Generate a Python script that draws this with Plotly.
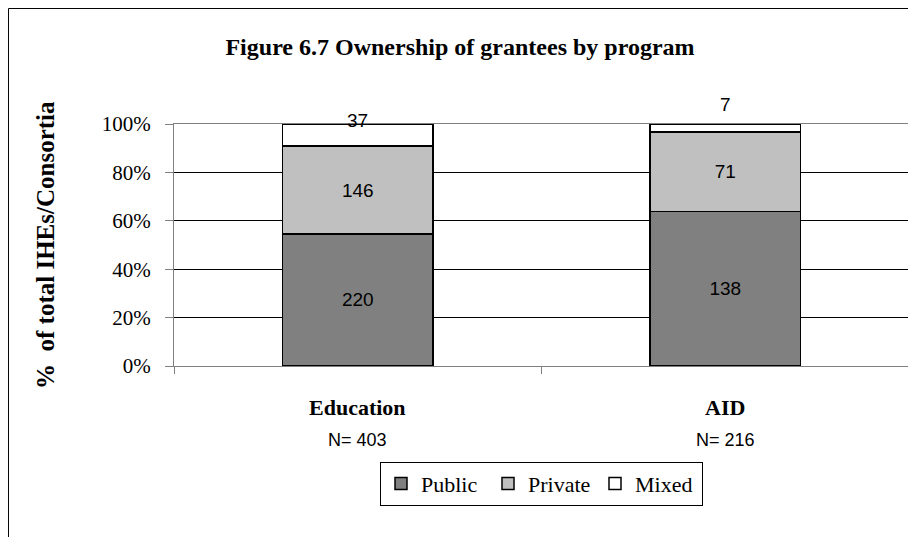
import plotly.graph_objects as go

categories = ["Education", "AID"]
n_labels = ["N= 403", "N= 216"]
series_names = ["Public", "Private", "Mixed"]
public = [220, 138]
private = [146, 71]
mixed = [37, 7]
colors = ["#808080", "#C0C0C0", "#FFFFFF"]
tick_vals = [0, 20, 40, 60, 80, 100]
tick_text = ["0%", "20%", "40%", "60%", "80%", "100%"]

totals = [a + b + c for a, b, c in zip(public, private, mixed)]
series = [public, private, mixed]

SERIF = "Liberation Serif, Times New Roman, serif"
SANS = "Liberation Sans, Arial, sans-serif"

fig = go.Figure()
for name, vals, col in zip(series_names, series, colors):
    pct = [v / t * 100 for v, t in zip(vals, totals)]
    show_text = name != "Mixed"
    fig.add_trace(go.Bar(
        x=categories, y=pct, name=name,
        marker=dict(color=col, line=dict(color="black", width=1.5)),
        text=[str(v) for v in vals] if show_text else None,
        textposition="inside" if show_text else "none",
        insidetextanchor="middle",
        textangle=0,
        textfont=dict(family=SANS, size=19, color="black"),
        hoverinfo="skip",
    ))

annotations = []
mixed_shifts = [4, 20]
for cat, v, s in zip(categories, mixed, mixed_shifts):
    annotations.append(dict(x=cat, y=100, xref="x", yref="y", text=str(v),
                            showarrow=False, yanchor="middle", yshift=s,
                            font=dict(family=SANS, size=19, color="black")))
for cat, nl in zip(categories, n_labels):
    annotations.append(dict(x=cat, y=-0.17, xref="x", yref="paper", text="<b>" + cat + "</b>",
                            showarrow=False, yanchor="middle",
                            font=dict(family=SERIF, size=22, color="black")))
    annotations.append(dict(x=cat, y=-0.306, xref="x", yref="paper", text=nl,
                            showarrow=False, yanchor="middle",
                            font=dict(family=SANS, size=18, color="black")))
annotations.append(dict(x=-0.1755, y=0.5, xref="paper", yref="paper",
                        text="<b>%  of total IHEs/Consortia</b>", textangle=-90,
                        showarrow=False, xanchor="center", yanchor="middle",
                        font=dict(family=SERIF, size=25, color="black")))

fig.update_layout(
    width=916, height=537,
    margin=dict(l=166, r=15, t=116, b=179),
    paper_bgcolor="white", plot_bgcolor="white",
    barmode="stack", bargap=0.59,
    title=dict(text="<b>Figure 6.7 Ownership of grantees by program</b>",
               x=452 / 916, xanchor="center", y=1 - 39 / 537, yanchor="middle",
               font=dict(family=SERIF, size=24, color="black")),
    showlegend=True,
    legend=dict(orientation="h", x=0.5, xanchor="center", y=-0.395, yanchor="top",
                bordercolor="black", borderwidth=1, bgcolor="white",
                font=dict(family=SERIF, size=22, color="black"),
                itemwidth=30, tracegroupgap=0, traceorder="normal",
                entrywidth=62, entrywidthmode="pixels"),
    annotations=annotations,
    shapes=[
        dict(type="line", xref="paper", yref="paper", x0=-0.2252, x1=-0.2252, y0=-0.75, y1=1.4773,
             line=dict(color="black", width=1)),
        dict(type="line", xref="paper", yref="paper", x0=-0.2252, x1=1.1, y0=1.4773, y1=1.4773,
             line=dict(color="black", width=1)),
    ],
)
fig.update_xaxes(type="category", showticklabels=False, showline=True, linecolor="#808080",
                 linewidth=1, mirror=True, ticks="outside", tickson="boundaries",
                 ticklen=7, tickcolor="#808080", showgrid=False)
fig.update_yaxes(range=[0, 100], tickvals=tick_vals, ticktext=tick_text,
                 tickfont=dict(family=SERIF, size=21, color="black"),
                 ticklabelstandoff=10,
                 showline=True, linecolor="#808080", linewidth=1, mirror=True,
                 ticks="outside", ticklen=8, tickcolor="#808080",
                 showgrid=True, gridcolor="black", gridwidth=1, zeroline=False)

fig.write_html("out.html")
